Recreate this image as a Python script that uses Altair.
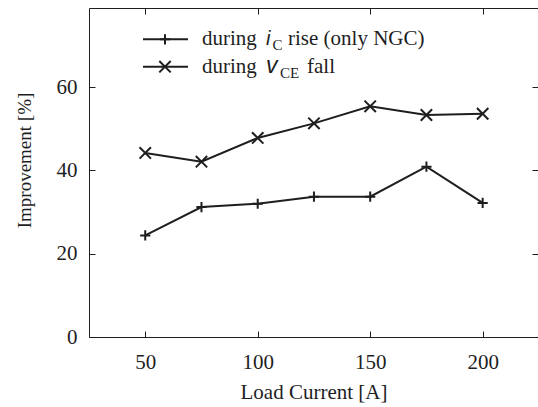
import altair as alt
import pandas as pd

# ---- data ----
load_current = [50, 75, 100, 125, 150, 175, 200]
ic_rise = [24.4, 31.2, 32.0, 33.7, 33.7, 40.9, 32.2]
vce_fall = [44.2, 42.1, 47.8, 51.3, 55.4, 53.3, 53.6]
series_names = ["ic_rise", "vce_fall"]
x_ticks = [50, 100, 150, 200]
y_ticks = [0, 20, 40, 60]

df = pd.DataFrame({
    "load": load_current + load_current,
    "value": ic_rise + vce_fall,
    "series": [series_names[0]] * len(load_current) + [series_names[1]] * len(load_current),
})

INK = "#1e1e1e"
SERIF = "Liberation Serif"
SANS = "Liberation Sans"
PLUS = "M-0.85,0H0.85M0,-0.85V0.85"
CROSS = "M-0.95,-0.95L0.95,0.95M-0.95,0.95L0.95,-0.95"
INWARD = {"expr": "-6"}

xs = alt.Scale(domain=[25, 224.6], nice=False, zero=False)
ys = alt.Scale(domain=[0, 79], nice=False, zero=False)

common = dict(grid=False, tickColor=INK, tickWidth=1, tickSize=INWARD,
              domainColor=INK, domainWidth=1, labelFlush=False, labelOverlap=False)

x_bottom = alt.Axis(orient="bottom", values=x_ticks, labelFont=SERIF, labelFontSize=21,
                    labelColor=INK, labelPadding=20, title="Load Current [A]",
                    titleFont=SERIF, titleFontSize=21, titleFontWeight="normal",
                    titleColor=INK, titleBaseline="alphabetic", titleY=61, **common)
y_left = alt.Axis(orient="left", values=y_ticks, labelFont=SERIF, labelFontSize=21,
                  labelColor=INK, labelPadding=18, title="Improvement [%]",
                  titleFont=SERIF, titleFontSize=19, titleFontWeight="normal",
                  titleColor=INK, titleAngle=270, titleBaseline="alphabetic",
                  titleAlign="center", titleX=-58.5, titleY=152, **common)
x_top = alt.Axis(orient="top", values=x_ticks, labels=False, title="", **common)
y_right = alt.Axis(orient="right", values=y_ticks, labels=False, title="",
                   **{**common, "domain": False})

lines = alt.Chart(df).mark_line(color=INK, strokeWidth=2).encode(
    x=alt.X("load:Q", scale=xs, axis=x_bottom),
    y=alt.Y("value:Q", scale=ys, axis=y_left),
    detail="series:N",
)

points = alt.Chart(df).mark_point(filled=False, color=INK, strokeWidth=2, opacity=1, size=144).encode(
    x=alt.X("load:Q", scale=xs, axis=x_top),
    y=alt.Y("value:Q", scale=ys, axis=y_right),
    shape=alt.Shape("series:N", scale=alt.Scale(domain=series_names, range=[PLUS, CROSS]), legend=None),
)

# ---- manual legend (positions relative to the plot origin) ----
one = alt.Data(values=[{"k": 0}])


def txt(s, x, y, font, size, italic=False):
    return alt.Chart(one).mark_text(
        text=s, font=font, fontSize=size, fontStyle="italic" if italic else "normal",
        align="left", baseline="alphabetic", color=INK,
    ).encode(x=alt.value(x), y=alt.value(y))


def key(shape, y):
    rule = alt.Chart(one).mark_rule(color=INK, strokeWidth=2).encode(
        x=alt.value(54), x2=alt.value(99), y=alt.value(y))
    mk = alt.Chart(one).mark_point(shape=shape, size=144, filled=False, color=INK,
                                   strokeWidth=2, opacity=1).encode(
        x=alt.value(76), y=alt.value(y))
    return [rule, mk]


legend = []
legend += key(PLUS, 31.3)
legend += [
    txt("during", 113, 37, SERIF, 21),
    txt("i", 177, 37, SANS, 20, italic=True),
    txt("C", 183.5, 42, SERIF, 15),
    txt("rise (only NGC)", 199, 37, SERIF, 21),
]
legend += key(CROSS, 58.7)
legend += [
    txt("during", 113, 64.5, SERIF, 21),
    txt("v", 177, 64.5, SANS, 23, italic=True),
    txt("CE", 191, 69.5, SERIF, 15),
    txt("fall", 218, 64.5, SERIF, 21),
]

chart = alt.layer(lines, points, *legend).resolve_scale(
    x="shared", y="shared"
).resolve_axis(
    x="independent", y="independent"
).properties(
    width=449, height=329,
    autosize=alt.AutoSizeParams(type="none"),
    padding={"left": 89, "top": 8, "right": 0, "bottom": 70},
    background="white",
).configure_view(stroke="transparent")

chart.save("out.html", embed_options={"renderer": "svg", "actions": False})
